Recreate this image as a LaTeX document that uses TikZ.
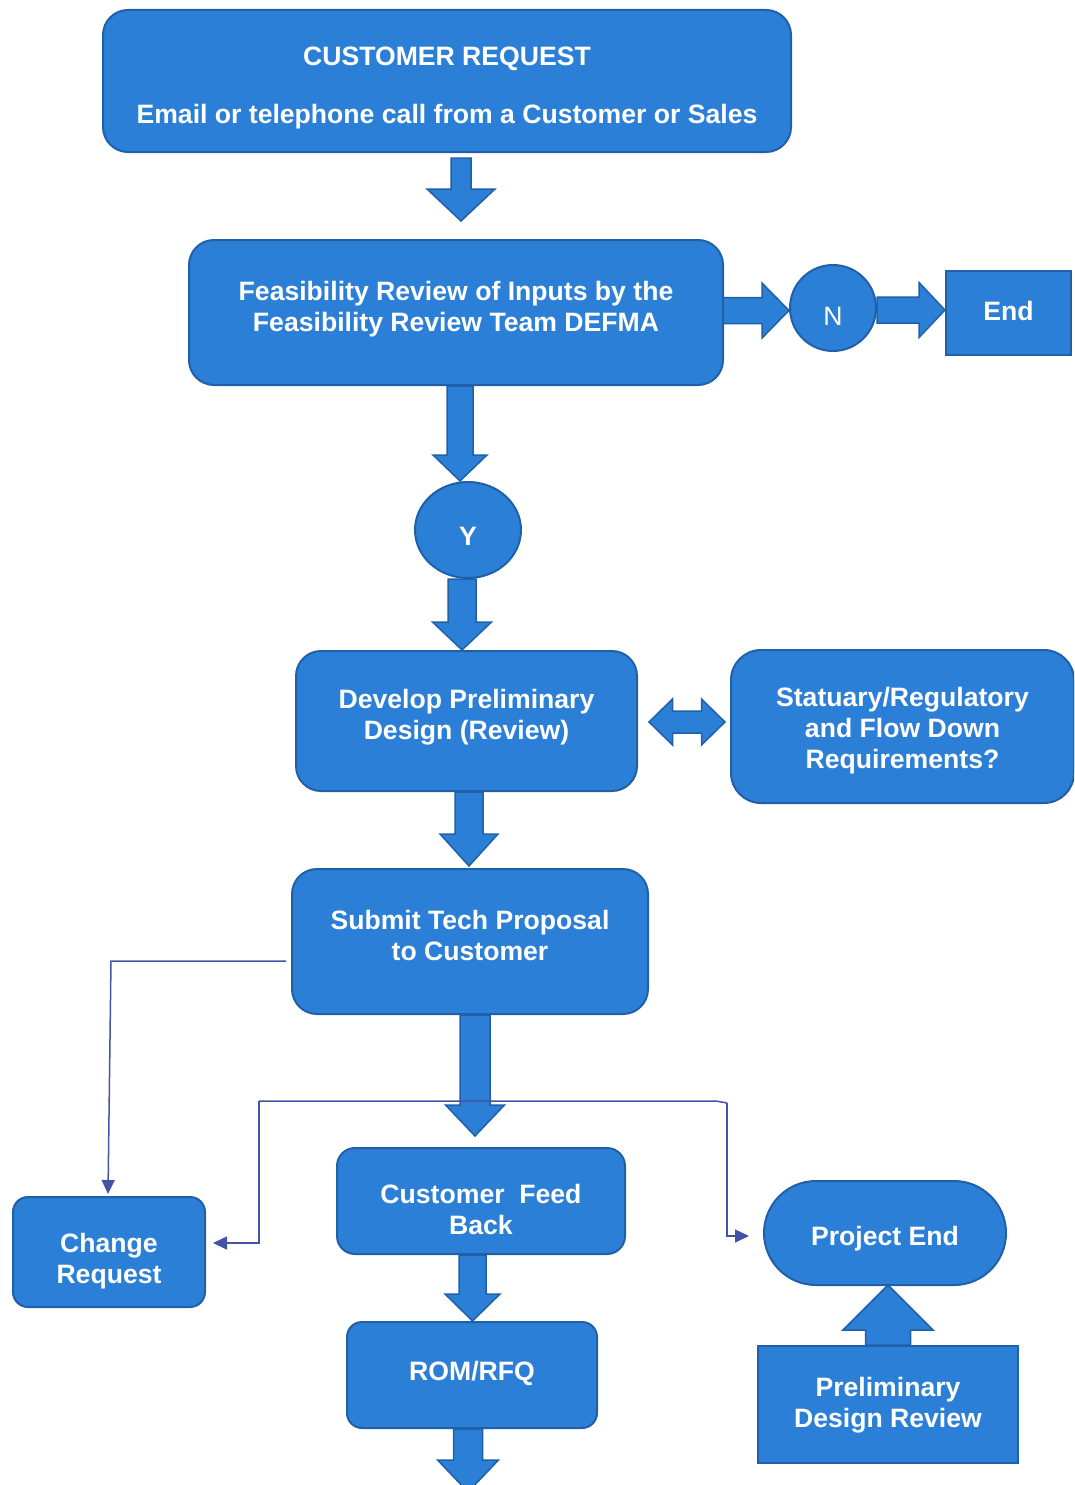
\documentclass[tikz,border=0pt]{standalone}
\usepackage{fontspec}
\setmainfont{Liberation Sans}
\usetikzlibrary{calc,shapes.geometric,arrows.meta}

\definecolor{boxfill}{RGB}{43,127,214}
\definecolor{boxedge}{RGB}{32,96,168}
\definecolor{linkc}{RGB}{68,84,164}

% block arrows: #1 start, #2 tip, #3 half shaft width, #4 half head width, #5 head length
\newcommand\blkdown[5]{\draw[blk] let \p1=(#1), \p2=(#2) in
  (\x1-#3,\y1) -- (\x1+#3,\y1) -- (\x1+#3,\y2+#5) -- (\x1+#4,\y2+#5) -- (\x1,\y2)
  -- (\x1-#4,\y2+#5) -- (\x1-#3,\y2+#5) -- cycle;}
\newcommand\blkup[5]{\draw[blk] let \p1=(#1), \p2=(#2) in
  (\x1-#3,\y1) -- (\x1+#3,\y1) -- (\x1+#3,\y2-#5) -- (\x1+#4,\y2-#5) -- (\x1,\y2)
  -- (\x1-#4,\y2-#5) -- (\x1-#3,\y2-#5) -- cycle;}
\newcommand\blkright[5]{\draw[blk] let \p1=(#1), \p2=(#2) in
  (\x1,\y1+#3) -- (\x2-#5,\y1+#3) -- (\x2-#5,\y1+#4) -- (\x2,\y1)
  -- (\x2-#5,\y1-#4) -- (\x2-#5,\y1-#3) -- (\x1,\y1-#3) -- cycle;}
\newcommand\blkboth[5]{\draw[blk] let \p1=(#1), \p2=(#2) in
  (\x1,\y1) -- (\x1+#5,\y1+#4) -- (\x1+#5,\y1+#3) -- (\x2-#5,\y1+#3) -- (\x2-#5,\y1+#4)
  -- (\x2,\y1) -- (\x2-#5,\y1-#4) -- (\x2-#5,\y1-#3) -- (\x1+#5,\y1-#3) -- (\x1+#5,\y1-#4) -- cycle;}

\begin{document}
\begin{tikzpicture}[x=1pt,y=-1pt,
  box/.style={draw=boxedge, fill=boxfill, line width=2pt, inner sep=0pt},
  rbox/.style={box, rounded corners=#1},
  txt/.style={text=white, font=\bfseries\fontsize{26.6}{31}\selectfont, align=center, inner sep=0pt},
  blk/.style={draw=boxedge, fill=boxfill, line width=1.5pt, line join=miter},
  conn/.style={draw=linkc, line width=1.5pt, -{Triangle[length=14pt,width=13pt]}},
  plain/.style={draw=linkc, line width=1.5pt}]

\useasboundingbox (0,0) rectangle (1074,1485);
\clip (0,0) rectangle (1074,1485);

% process boxes
\node[rbox=25pt, minimum width=688pt, minimum height=142pt] (cr) at (447,81) {};
\node[txt] (crT) at ($(cr.center)+(0,7)$) {CUSTOMER REQUEST\\[27pt]Email or telephone call from a Customer or Sales};

\node[rbox=25pt, minimum width=534pt, minimum height=145pt] (feas) at (456,312.5) {};
\node[txt] (feasT) at ($(feas.center)+(0,-3)$) {Feasibility Review of Inputs by the\\Feasibility Review Team DEFMA};

\node[box, circle, minimum size=86pt] (nN) at (833,308) {};
\node[txt, font=\fontsize{26.6}{31}\selectfont] (nT) at ($(nN.center)+(0,8)$) {N};

\node[box, minimum width=125pt, minimum height=84pt] (endb) at (1008.5,313) {};
\node[txt] (endT) at ($(endb.center)+(0,-2)$) {End};

\node[box, ellipse, minimum width=106pt, minimum height=96pt] (yY) at (468,530) {};
\node[txt] (yT) at ($(yY.center)+(0,6)$) {Y};

\node[rbox=25pt, minimum width=341pt, minimum height=140pt] (dev) at (466.5,721) {};
\node[txt] (devT) at ($(dev.center)+(0,-3.5)$) {Develop Preliminary\\Design (Review)};

\node[rbox=30pt, minimum width=343pt, minimum height=153pt] (stat) at (902.5,726.5) {};
\node[txt] (statT) at ($(stat.center)+(0,4)$) {Statuary/Regulatory\\and Flow Down\\Requirements?};

\node[rbox=25pt, minimum width=356pt, minimum height=145pt] (sub) at (470,941.5) {};
\node[txt] (subT) at ($(sub.center)+(0,-6)$) {Submit Tech Proposal\\to Customer};

\node[rbox=18pt, minimum width=288pt, minimum height=106pt] (cfb) at (481,1201) {};
\node[txt] (cfbT) at ($(cfb.center)+(0,8)$) {Customer\ \ Feed\\Back};

\node[rbox=15pt, minimum width=192pt, minimum height=110pt] (chg) at (109,1252) {};
\node[txt] (chgT) at ($(chg.center)+(0,9)$) {Change\\Request};

\node[rbox=15pt, minimum width=250pt, minimum height=106pt] (rom) at (472,1375) {};
\node[txt] (romT) at ($(rom.center)+(0,-2)$) {ROM/RFQ};

\node[rbox=52pt, minimum width=242pt, minimum height=104pt] (pe) at (885,1233) {};
\node[txt] (peT) at ($(pe.center)+(0,6)$) {Project End};

\node[box, minimum width=260pt, minimum height=117pt] (pdr) at (888,1404.5) {};
\node[txt] (pdrT) at ($(pdr.center)+(0,1)$) {Preliminary\\Design Review};

% block arrows between the boxes
\blkdown{$(cr.south)+(14,5)$}{$(feas.north)+(5,-18)$}{10pt}{34pt}{32pt}
\blkright{$(feas.east)+(-1,-2)$}{nN.west}{13pt}{27.5pt}{27pt}
\blkright{$(nN.east)+(0,2)$}{endb.west}{13pt}{27.5pt}{26pt}
\blkdown{$(feas.south)+(4,0)$}{yY.north}{13pt}{27pt}{26pt}
\blkdown{$(yY.south)+(-6,0)$}{dev.north}{14pt}{29.5pt}{28pt}
\blkboth{$(dev.east)+(11,1)$}{$(stat.west)+(-5,0)$}{11pt}{23pt}{23.5pt}
\blkdown{$(dev.south)+(2.5,0)$}{$(sub.north)+(0,-2)$}{14pt}{29pt}{32pt}
\blkdown{$(sub.south)+(5,0)$}{$(cfb.north)+(0,-11)$}{15pt}{29.5pt}{31pt}
\blkdown{$(cfb.south)+(-8.5,0)$}{rom.north}{13.5pt}{27.5pt}{27pt}
\coordinate (romout) at (468,1492);
\blkdown{$(rom.south)+(-4,0)$}{romout}{14.5pt}{30.5pt}{32pt}
\blkup{pdr.north}{$(pe.south)+(3,-1)$}{22.5pt}{45pt}{45pt}

% thin feedback connectors
\coordinate (c1) at (111,961);
\coordinate (sj) at (259,1101);
\coordinate (ej) at (716,1101);
\coordinate (ek) at (727,1103);
\draw[conn] ($(sub.west)+(-5,19.5)$) -- (c1) -- ($(chg.north)+(-1,-2)$);
\draw[plain] (sj) -- (ej) -- (ek);
\draw[conn] (sj) |- ($(chg.east)+(7,-9)$);
\draw[conn] (ek) |- ($(pe.west)+(-14,3)$);

\end{tikzpicture}
\end{document}
